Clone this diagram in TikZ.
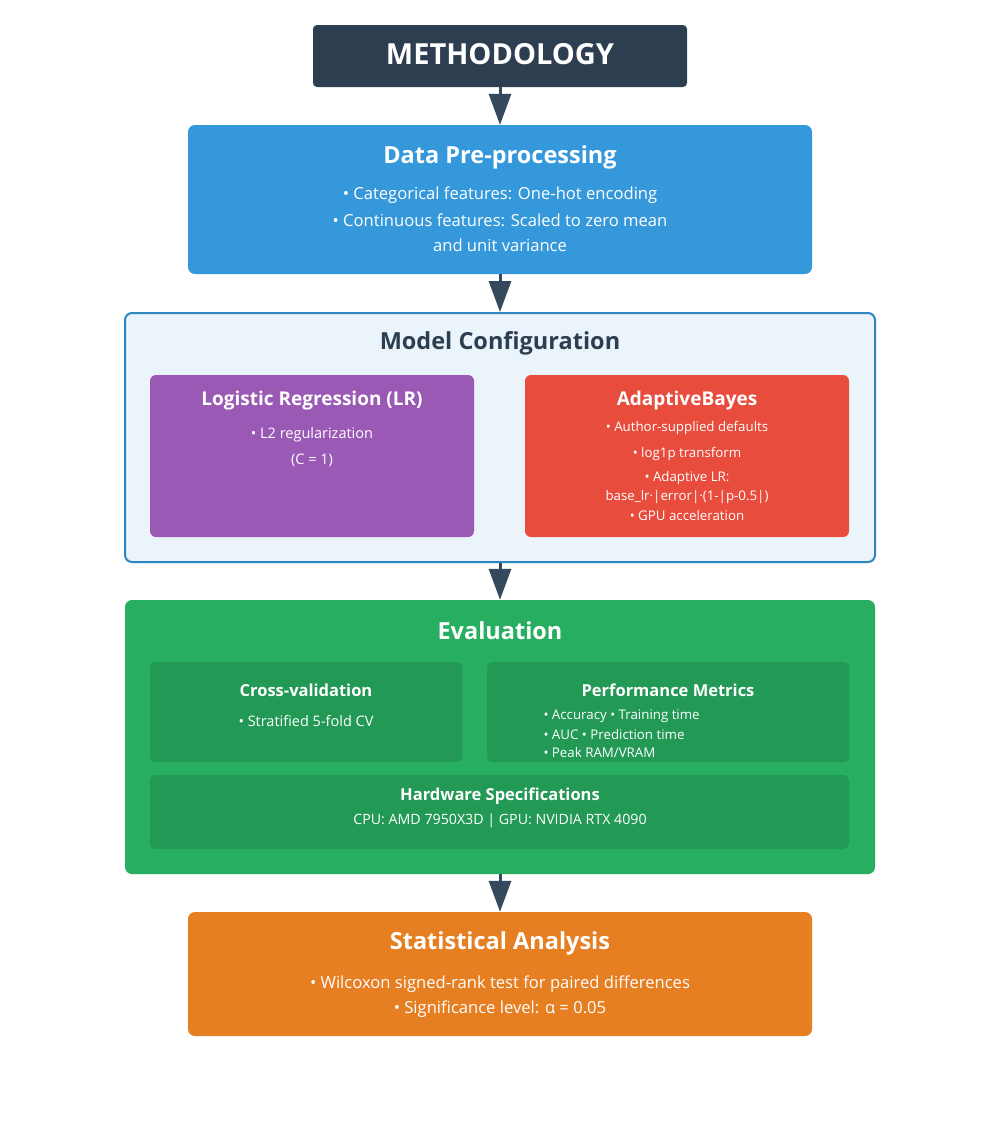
\documentclass[tikz,border=0pt]{standalone}
\usepackage{fontspec}
\setmainfont{Open Sans}
\usetikzlibrary{arrows.meta}

\definecolor{headbg}{HTML}{2C3E50}
\definecolor{arrowc}{HTML}{34495E}
\definecolor{prepbg}{HTML}{3498DB}
\definecolor{modelbg}{HTML}{EAF4FA}
\definecolor{modelln}{HTML}{2E86C1}
\definecolor{lrbg}{HTML}{9B59B6}
\definecolor{abbg}{HTML}{E74C3C}
\definecolor{evalbg}{HTML}{27AE60}
\definecolor{evalin}{HTML}{229954}
\definecolor{statbg}{HTML}{E67E22}

\tikzset{
  box/.style={rounded corners=7pt, inner sep=0pt, draw=none},
  inbox/.style={rounded corners=5pt, inner sep=0pt, draw=none, fill=evalin},
  ttl/.style={text=white, font=\bfseries\fontsize{23.5}{28}\selectfont},
  subttl/.style={text=white, font=\bfseries\fontsize{19}{23}\selectfont},
  subttlb/.style={text=white, font=\bfseries\fontsize{16.5}{20}\selectfont},
  txt/.style={text=white, font=\fontsize{16.6}{20}\selectfont},
  small/.style={text=white, font=\fontsize{13.3}{16}\selectfont},
  mid/.style={text=white, font=\fontsize{14.5}{17}\selectfont},
  flow/.style={draw=arrowc, line width=3pt, -{Triangle[width=22pt,length=31pt]}}
}

\begin{document}
\begin{tikzpicture}[x=1pt, y=-1pt]
  \useasboundingbox[fill=white] (0,0) rectangle (1000,1125);

  % header
  \node[box, rounded corners=4pt, fill=headbg, minimum width=374, minimum height=62] (head) at (500,56) {};
  \node[text=white, font=\bfseries\fontsize{29}{34}\selectfont] (headtxt) at (500,54) {METHODOLOGY};

  % data pre-processing
  \node[box, fill=prepbg, minimum width=624, minimum height=149] (prep) at (500,199.5) {};
  \node[ttl] (preptitle) at (500,157) {Data Pre-processing};
  \node[txt] (prep1) at (500,195) {• Categorical features: One-hot encoding};
  \node[txt] (prep2) at (500,220) {• Continuous features: Scaled to zero mean};
  \node[txt] (prep3) at (500,245) {and unit variance};

  % model configuration
  \node[box, fill=modelbg, draw=modelln, line width=2pt, minimum width=750, minimum height=249] (model) at (500,437.5) {};
  \node[ttl, text=headbg] (modeltitle) at (500,343) {Model Configuration};

  \node[box, rounded corners=6pt, fill=lrbg, minimum width=324, minimum height=162] (lr) at (312,456) {};
  \node[subttl] (lrtitle) at (312,401) {Logistic Regression (LR)};
  \node[mid] (lr1) at (312,435) {• L2 regularization};
  \node[mid] (lr2) at (312,460) {(C = 1)};

  \node[box, rounded corners=6pt, fill=abbg, minimum width=324, minimum height=162] (ab) at (687,456) {};
  \node[subttl] (abtitle) at (687,401) {AdaptiveBayes};
  \node[small] (ab1) at (687,428) {• Author-supplied defaults};
  \node[small] (ab2) at (687,454) {• log1p transform};
  \node[small] (ab3) at (687,478) {• Adaptive LR:};
  \node[small] (ab4) at (687,497) {base\_lr·|error|·(1-|p-0.5|)};
  \node[small] (ab5) at (687,516) {• GPU acceleration};

  % evaluation
  \node[box, fill=evalbg, minimum width=750, minimum height=274] (eval) at (500,737) {};
  \node[ttl] (evaltitle) at (500,631) {Evaluation};

  \node[inbox, minimum width=312, minimum height=100] (cv) at (306,712) {};
  \node[subttlb] (cvtitle) at (306,690) {Cross-validation};
  \node[mid] (cv1) at (306,721) {• Stratified 5-fold CV};

  \node[inbox, minimum width=362, minimum height=100] (perf) at (668,712) {};
  \node[subttlb] (perftitle) at (668,690) {Performance Metrics};
  \node[small, anchor=west] (perf1) at (540,716) {• Accuracy • Training time};
  \node[small, anchor=west] (perf2) at (540,735) {• AUC • Prediction time};
  \node[small, anchor=west] (perf3) at (540,753) {• Peak RAM/VRAM};

  \node[inbox, minimum width=699, minimum height=74] (hw) at (499.5,812) {};
  \node[subttlb] (hwtitle) at (500,796) {Hardware Specifications};
  \node[mid, font=\fontsize{14.2}{17}\selectfont] (hw1) at (500,821) {CPU: AMD 7950X3D | GPU: NVIDIA RTX 4090};

  % statistical analysis
  \node[box, fill=statbg, minimum width=624, minimum height=124] (stat) at (500,974) {};
  \node[ttl] (stattitle) at (500,943) {Statistical Analysis};
  \node[txt] (stat1) at (500,984) {• Wilcoxon signed-rank test for paired differences};
  \node[txt] (stat2) at (500,1009) {• Significance level: α = 0.05};

  % connectors
  \draw[flow] (head.south) -- (prep.north);
  \draw[flow] (prep.south) -- (model.north);
  \draw[flow] (model.south) -- (eval.north);
  \draw[flow] (eval.south) -- (stat.north);
\end{tikzpicture}
\end{document}
